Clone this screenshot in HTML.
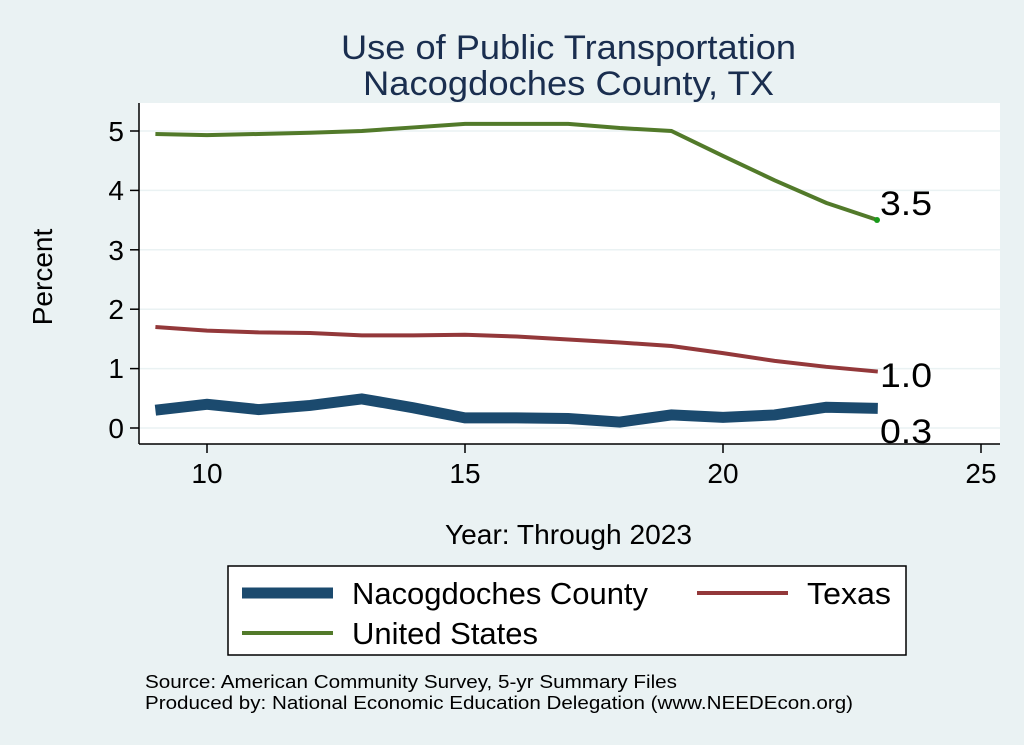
<!DOCTYPE html>
<html><head><style>
body{margin:0;background:#eaf2f3;}
svg{display:block;font-family:"Liberation Sans",Arial,sans-serif;}
</style></head><body>
<svg width="1024" height="745" viewBox="0 0 1024 745">
<rect width="1024" height="745" fill="#eaf2f3"/>
<text x="341" y="59" font-size="34" fill="#1a2e4f" textLength="455" lengthAdjust="spacingAndGlyphs">Use of Public Transportation</text>
<text x="363" y="95" font-size="34" fill="#1a2e4f" textLength="411" lengthAdjust="spacingAndGlyphs">Nacogdoches County, TX</text>
<rect x="139" y="103" width="861" height="341" fill="#fff"/>
<g stroke="#eaf2f3" stroke-width="1.5">
<line x1="139" x2="1000" y1="428" y2="428"/><line x1="139" x2="1000" y1="368.6" y2="368.6"/>
<line x1="139" x2="1000" y1="309.2" y2="309.2"/><line x1="139" x2="1000" y1="249.8" y2="249.8"/>
<line x1="139" x2="1000" y1="190.4" y2="190.4"/><line x1="139" x2="1000" y1="131" y2="131"/>
</g>
<g stroke="#000" stroke-width="1.5">
<line x1="139" y1="103" x2="139" y2="444"/><line x1="139" y1="444" x2="1000" y2="444"/>
<line x1="130" x2="139" y1="428" y2="428"/><line x1="130" x2="139" y1="368.6" y2="368.6"/>
<line x1="130" x2="139" y1="309.2" y2="309.2"/><line x1="130" x2="139" y1="249.8" y2="249.8"/>
<line x1="130" x2="139" y1="190.4" y2="190.4"/><line x1="130" x2="139" y1="131" y2="131"/>
<line x1="207" x2="207" y1="444" y2="453"/><line x1="465" x2="465" y1="444" y2="453"/>
<line x1="723" x2="723" y1="444" y2="453"/><line x1="981" x2="981" y1="444" y2="453"/>
</g>
<g font-size="28" fill="#000" text-anchor="end">
<text x="124" y="438">0</text><text x="124" y="378">1</text><text x="124" y="319">2</text>
<text x="124" y="260">3</text><text x="124" y="200">4</text><text x="124" y="141">5</text>
</g>
<g font-size="28" fill="#000" text-anchor="middle">
<text x="207" y="483">10</text><text x="465" y="483">15</text><text x="723" y="483">20</text><text x="981" y="483">25</text>
</g>
<text x="52" y="277" font-size="28" transform="rotate(-90 52 277)" text-anchor="middle">Percent</text>
<text x="445" y="544" font-size="28" textLength="247" lengthAdjust="spacingAndGlyphs">Year: Through 2023</text>
<g transform="translate(-309,428) scale(51.6,-59.4)" fill="none">
<polyline vector-effect="non-scaling-stroke" stroke="#527a2a" stroke-width="4" points="9,4.95 10,4.93 11,4.95 12,4.97 13,5.0 14,5.06 15,5.12 16,5.12 17,5.12 18,5.05 19,5.0 20,4.58 21,4.17 22,3.79 23,3.5"/>
<polyline vector-effect="non-scaling-stroke" stroke="#93383a" stroke-width="4" points="9,1.70 10,1.64 11,1.61 12,1.60 13,1.56 14,1.56 15,1.57 16,1.54 17,1.49 18,1.44 19,1.38 20,1.26 21,1.13 22,1.03 23,0.95"/>
<polyline vector-effect="non-scaling-stroke" stroke="#1b4a6e" stroke-width="11" points="9,0.30 10,0.40 11,0.31 12,0.38 13,0.49 14,0.34 15,0.17 16,0.17 17,0.16 18,0.10 19,0.22 20,0.18 21,0.22 22,0.35 23,0.33"/>
</g>
<circle cx="877" cy="220" r="3" fill="#1a9a1a"/>
<g font-size="34" fill="#000">
<text x="880" y="215" textLength="52" lengthAdjust="spacingAndGlyphs">3.5</text>
<text x="880" y="387" textLength="52" lengthAdjust="spacingAndGlyphs">1.0</text>
<text x="880" y="443" textLength="52" lengthAdjust="spacingAndGlyphs">0.3</text>
</g>
<rect x="228" y="566" width="678" height="89" fill="#fff" stroke="#000" stroke-width="1.5"/>
<line x1="242" x2="333" y1="593" y2="593" stroke="#1b4a6e" stroke-width="11"/>
<text x="352" y="604" font-size="31" textLength="296" lengthAdjust="spacingAndGlyphs">Nacogdoches County</text>
<line x1="697" x2="788" y1="593" y2="593" stroke="#93383a" stroke-width="4"/>
<text x="807" y="604" font-size="31" textLength="84" lengthAdjust="spacingAndGlyphs">Texas</text>
<line x1="242" x2="333" y1="633" y2="633" stroke="#527a2a" stroke-width="4"/>
<text x="352" y="644" font-size="31" textLength="186" lengthAdjust="spacingAndGlyphs">United States</text>
<text x="145" y="688" font-size="18" textLength="532" lengthAdjust="spacingAndGlyphs">Source: American Community Survey, 5-yr Summary Files</text>
<text x="145" y="709" font-size="18" textLength="708" lengthAdjust="spacingAndGlyphs">Produced by: National Economic Education Delegation (www.NEEDEcon.org)</text>
</svg>
</body></html>
